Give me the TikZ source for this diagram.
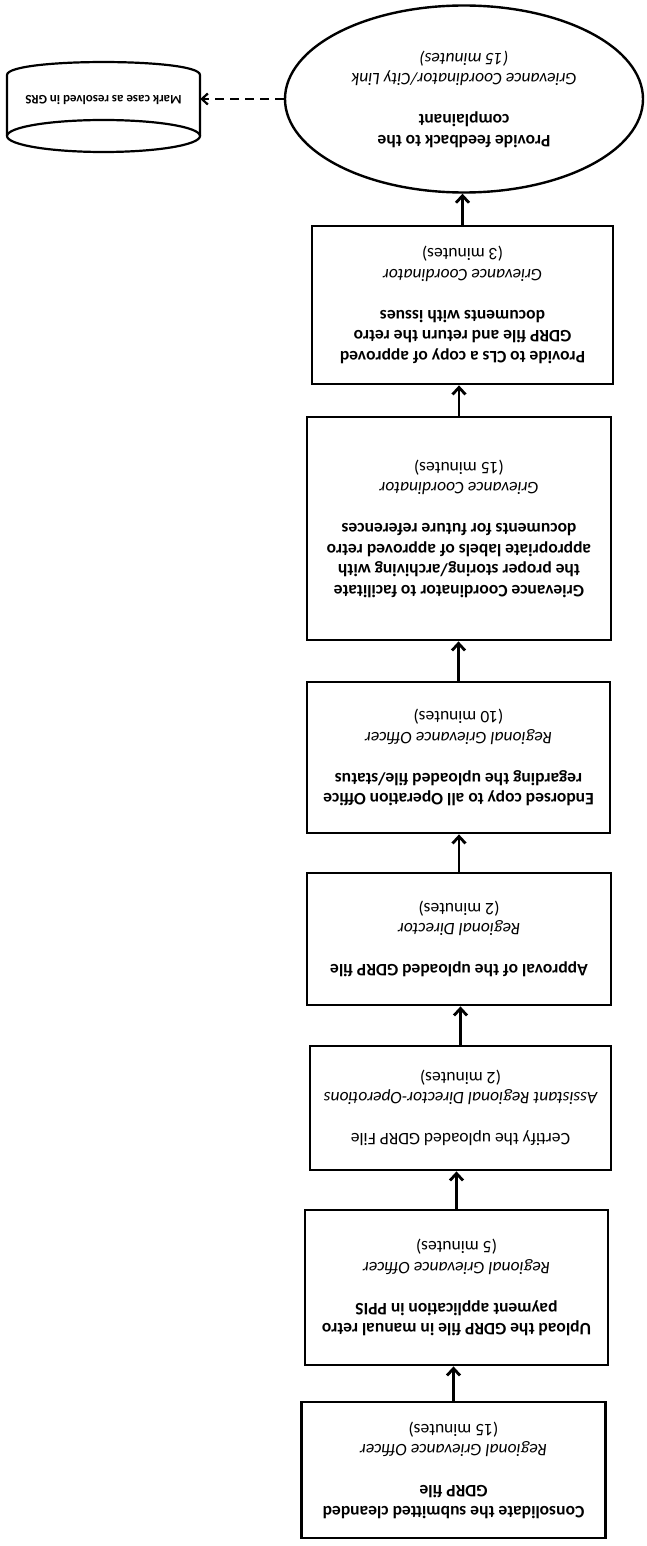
\documentclass[tikz,border=0pt]{standalone}
\usepackage{fontspec}
\setmainfont{Carlito}
\usetikzlibrary{arrows.meta,shapes.geometric}
\newcommand{\mline}[1]{\textbf{#1}}
\newcommand{\rline}[1]{\textit{#1}}
\begin{document}
\begin{tikzpicture}[x=1pt,y=-1pt,
  stepbox/.style={draw, line width=2.8pt, rectangle, inner sep=0pt, rotate=180,
    align=center, font=\fontsize{17.5}{20.5}\selectfont},
  endell/.style={draw, line width=2.4pt, ellipse, inner sep=0pt, rotate=180,
    align=center, font=\fontsize{17.5}{20.5}\selectfont},
  storetxt/.style={inner sep=0pt, rotate=180, minimum width=193pt, minimum height=50pt,
    font=\fontsize{13}{15}\selectfont\bfseries},
  storeline/.style={line width=2.2pt},
  flow/.style={line width=2.8pt, -{Straight Barb[length=7pt,width=13pt]}},
  dflow/.style={line width=2.2pt, dash pattern=on 9pt off 6pt,
    -{Straight Barb[length=6pt,width=11pt]}}]
\useasboundingbox (0,0) rectangle (647,1546);
\fill[white] (0,0) rectangle (647,1546);

% process boxes (the whole diagram is printed upside down)
\node[stepbox, minimum width=304pt, minimum height=136pt] (b7) at (453.5,1470)
  {\mline{Consolidate the submitted cleanded}\\\mline{GDRP file}\\[20.5pt]
   \rline{Regional Grievance Officer}\\(15 minutes)};
\node[stepbox, minimum width=303pt, minimum height=155pt] (b6) at (456.5,1287.5)
  {\mline{Upload the GDRP file in manual retro}\\\mline{payment application in PPIS}\\[20.5pt]
   \rline{Regional Grievance Officer}\\(5 minutes)};
\node[stepbox, minimum width=301pt, minimum height=124pt] (b5) at (460.5,1108)
  {Certify the uploaded GDRP File\\[20.5pt]
   \rline{Assistant Regional Director-Operotions}\\(2 minutes)};
\node[stepbox, minimum width=304pt, minimum height=132pt] (b4) at (459,939)
  {\mline{Approval of the uploaded GDRP file}\\[20.5pt]
   \rline{Regional Director}\\(2 minutes)};
\node[stepbox, minimum width=303pt, minimum height=151pt] (b3) at (458.5,757.5)
  {\mline{Endorsed copy to all Operation Office}\\\mline{regarding the uploaded file/status}\\[20.5pt]
   \rline{Regional Grievance Officer}\\(10 minutes)};
\node[stepbox, minimum width=304pt, minimum height=223pt] (b2) at (459,528.5)
  {\mline{Grievance Coordinator to facilitate}\\\mline{the proper storing/archiving with}\\
   \mline{appropriate labels of approved retro}\\\mline{documents for future references}\\[20.5pt]
   \rline{Grievance Coordinator}\\(15 minutes)};
\node[stepbox, minimum width=301pt, minimum height=158pt] (b1) at (462.5,305)
  {\mline{Provide to CLs a copy of approved}\\\mline{GDRP file and return the retro}\\
   \mline{documents with issues}\\[20.5pt]
   \rline{Grievance Coordinator}\\(3 minutes)};
\node[endell, minimum width=358pt, minimum height=187pt] (fb) at (464,99)
  {\mline{Provide feedback to the}\\\mline{complainant}\\[20.5pt]
   \rline{Grievance Coordinator/City Link}\\\rline{(15 minutes)}};

% data store (cylinder, drawn upside down)
\node[storetxt] (gr) at (103.5,100) {Mark case as resolved in GRS};
\draw[storeline] (103.5,136) ellipse [x radius=96.5, y radius=16];
\draw[storeline] (7,136) -- (7,75) .. controls (7,57.7) and (200,57.7) .. (200,75) -- (200,136);

% connectors (pointing up the page)
\draw[flow] (b7.south) -- (b7.south |- b6.north);
\draw[flow] (b6.south) -- (b6.south |- b5.north);
\draw[flow] (b5.south) -- (b5.south |- b4.north);
\draw[flow] (b4.south) -- (b4.south |- b3.north);
\draw[flow] (b3.south) -- (b3.south |- b2.north);
\draw[flow] (b2.south) -- (b2.south |- b1.north);
\draw[flow] (b1.south) -- (b1.south |- fb.north);
\draw[dflow] (fb.east) -- (fb.east -| gr.west);
\end{tikzpicture}
\end{document}
